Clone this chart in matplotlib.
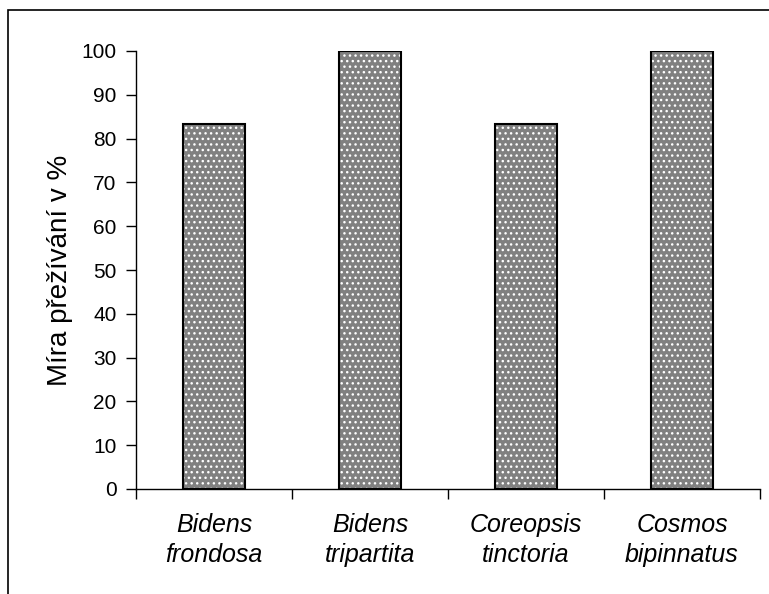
import matplotlib
matplotlib.use('Agg')
import matplotlib.pyplot as plt
from matplotlib.patches import Rectangle

plt.rcParams['font.family'] = ['Liberation Sans', 'DejaVu Sans']
plt.rcParams['hatch.linewidth'] = 1.0

# data
species = ['Bidens\nfrondosa', 'Bidens\ntripartita', 'Coreopsis\ntinctoria', 'Cosmos\nbipinnatus']
survival = [83.3, 100, 83.3, 100]
yticks = list(range(0, 101, 10))

fig = plt.figure(figsize=(7.69, 5.94), dpi=100)
ax = fig.add_axes([136 / 769, 1 - 489 / 594, (760 - 136) / 769, (489 - 51) / 594])

x = range(len(species))
# patterned fill (grey with white dots), then black outline on top
ax.bar(x, survival, width=0.4, color='#808080', edgecolor='white', hatch='...', linewidth=0, zorder=2)
ax.bar(x, survival, width=0.4, fill=False, edgecolor='black', linewidth=1.5, zorder=3)

ax.set_xlim(-0.5, len(species) - 0.5)
ax.set_ylim(0, 100)
ax.set_yticks(yticks)
ax.set_xticks(list(x))
ax.set_xticklabels(species, fontsize=18, style='italic', linespacing=1.35)
ax.set_xticks([i - 0.5 for i in range(len(species) + 1)], minor=True)
ax.tick_params(axis='x', which='major', length=0, pad=17)
ax.tick_params(axis='x', which='minor', length=7, width=1, direction='out')
ax.tick_params(axis='y', length=7, width=1, labelsize=15, pad=7)
ax.set_ylabel('Míra přežívání v %', fontsize=20, labelpad=6)

for s in ['top', 'right']:
    ax.spines[s].set_visible(False)
for s in ['left', 'bottom']:
    ax.spines[s].set_linewidth(1)

# outer chart-area border (cut off at right and bottom)
fig.patches.append(Rectangle((8 / 769, -0.1), 1.2, 1.1 - 10 / 594, transform=fig.transFigure,
                             fill=False, edgecolor='black', linewidth=1.2))

fig.savefig('out.png', dpi=100)
